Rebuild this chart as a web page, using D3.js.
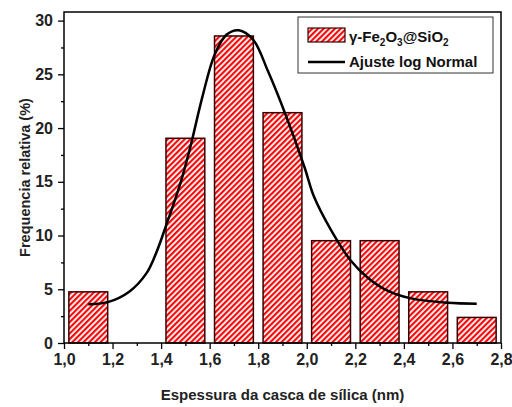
<!DOCTYPE html>
<html>
<head>
<meta charset="utf-8">
<script src="https://cdn.jsdelivr.net/npm/d3@7"></script>
<style>
  body { margin: 0; background: #fff; }
  svg { font-family: "Liberation Sans", Arial, sans-serif; font-weight: bold; }
</style>
</head>
<body>
<svg id="chart" width="512" height="407"></svg>
<script>
// histogram bins (nm) and relative frequency (%)
var binCenters = [1.1, 1.5, 1.7, 1.9, 2.1, 2.3, 2.5, 2.7];
var freqValues = [4.76, 19.05, 28.57, 21.43, 9.52, 9.52, 4.76, 2.38];
var binWidth = 0.16;

// log-normal fit curve
var fitX = [1.10, 1.18, 1.27, 1.34, 1.38, 1.42, 1.48, 1.52, 1.57, 1.62, 1.67, 1.72, 1.78, 1.84, 1.91, 1.99, 2.03, 2.10, 2.18, 2.25, 2.33, 2.43, 2.58, 2.70];
var fitY = [3.6, 3.8, 4.8, 6.5, 8.4, 10.9, 14.9, 18.2, 22.9, 26.8, 28.7, 29.1, 28.2, 25.3, 21.4, 16.4, 13.6, 10.5, 7.7, 6.1, 4.9, 4.15, 3.75, 3.66];

var xTicks = [1.0, 1.2, 1.4, 1.6, 1.8, 2.0, 2.2, 2.4, 2.6, 2.8];
var yTicks = [0, 5, 10, 15, 20, 25, 30];

var svg = d3.select("#chart");
var pLeft = 64, pRight = 501, pTop = 12, pBottom = 343;

var x = d3.scaleLinear().domain([1.0, 2.8]).range([pLeft, pRight]);
var y = d3.scaleLinear().domain([0, 30.8]).range([pBottom, pTop]);

// stripe pattern
var defs = svg.append("defs");
var pat = defs.append("pattern")
    .attr("id", "hatch")
    .attr("patternUnits", "userSpaceOnUse")
    .attr("width", 4).attr("height", 4)
    .attr("patternTransform", "rotate(45)");
pat.append("rect").attr("width", 4).attr("height", 4).attr("fill", "#fff");
pat.append("rect").attr("width", 2.2).attr("height", 4).attr("fill", "#f50a0a");

// bars
svg.selectAll("rect.bar")
    .data(binCenters)
    .enter()
    .append("rect")
    .attr("class", "bar")
    .attr("x", function(d) { return x(d - binWidth / 2); })
    .attr("width", function(d) { return x(d + binWidth / 2) - x(d - binWidth / 2); })
    .attr("y", function(d, i) { return y(freqValues[i]); })
    .attr("height", function(d, i) { return y(0) - y(freqValues[i]); })
    .attr("fill", "url(#hatch)")
    .attr("stroke", "#3a0000")
    .attr("stroke-width", 1.5);

// fit curve
var line = d3.line()
    .x(function(d, i) { return x(fitX[i]); })
    .y(function(d, i) { return y(d); })
    .curve(d3.curveCatmullRom.alpha(0.5));

svg.append("path")
    .attr("d", line(fitY))
    .attr("fill", "none")
    .attr("stroke", "#000")
    .attr("stroke-width", 2.5);

// frame
svg.append("rect")
    .attr("x", pLeft).attr("y", pTop)
    .attr("width", pRight - pLeft).attr("height", pBottom - pTop)
    .attr("fill", "none")
    .attr("stroke", "#000")
    .attr("stroke-width", 1.5);

// x axis
var fmt = function(d) { return d3.format(".1f")(d).replace(".", ","); };
var xAxis = svg.append("g").attr("transform", "translate(0," + pBottom + ")");
xAxis.append("g").call(d3.axisBottom(x).tickValues(d3.range(1.1, 2.8, 0.2)).tickSize(3).tickFormat(""));
xAxis.append("g").call(d3.axisBottom(x).tickValues(xTicks).tickSize(6).tickPadding(5).tickFormat(fmt));
xAxis.selectAll(".domain").remove();
xAxis.selectAll("line").attr("stroke", "#000").attr("stroke-width", 1.3);
xAxis.selectAll("text").attr("font-size", 16).attr("font-weight", "bold")
    .attr("font-family", "'Liberation Sans', Arial, sans-serif").attr("fill", "#222");

// y axis
var yAxis = svg.append("g").attr("transform", "translate(" + pLeft + ",0)");
yAxis.append("g").call(d3.axisLeft(y).tickValues(d3.range(2.5, 30, 5)).tickSize(3).tickFormat(""));
yAxis.append("g").call(d3.axisLeft(y).tickValues(yTicks).tickSize(6).tickPadding(5));
yAxis.selectAll(".domain").remove();
yAxis.selectAll("line").attr("stroke", "#000").attr("stroke-width", 1.3);
yAxis.selectAll("text").attr("font-size", 16).attr("font-weight", "bold")
    .attr("font-family", "'Liberation Sans', Arial, sans-serif").attr("fill", "#222");

// axis titles
svg.append("text")
    .attr("x", (pLeft + pRight) / 2).attr("y", 400)
    .attr("text-anchor", "middle")
    .attr("font-size", 15).attr("fill", "#222")
    .text("Espessura da casca de sílica (nm)");

svg.append("text")
    .attr("transform", "translate(30," + ((pTop + pBottom) / 2) + ") rotate(-90)")
    .attr("text-anchor", "middle")
    .attr("font-size", 14.5).attr("fill", "#222")
    .text("Frequencia relativa (%)");

// legend
var lg = svg.append("g");
lg.append("rect")
    .attr("x", 298).attr("y", 17).attr("width", 195).attr("height", 56)
    .attr("fill", "#fff").attr("stroke", "#333").attr("stroke-width", 1);
lg.append("rect")
    .attr("x", 308).attr("y", 28).attr("width", 37).attr("height", 14)
    .attr("fill", "url(#hatch)").attr("stroke", "#3a0000").attr("stroke-width", 1.2);
lg.append("line")
    .attr("x1", 308).attr("x2", 345).attr("y1", 62).attr("y2", 62)
    .attr("stroke", "#000").attr("stroke-width", 2.5);
var t1 = lg.append("text").attr("x", 349).attr("y", 42).attr("font-size", 15).attr("fill", "#111");
t1.append("tspan").text("γ-Fe");
t1.append("tspan").attr("font-size", 10).attr("dy", 4).text("2");
t1.append("tspan").attr("dy", -4).text("O");
t1.append("tspan").attr("font-size", 10).attr("dy", 4).text("3");
t1.append("tspan").attr("dy", -4).text("@SiO");
t1.append("tspan").attr("font-size", 10).attr("dy", 4).text("2");
lg.append("text").attr("x", 349).attr("y", 67).attr("font-size", 15).attr("fill", "#111")
    .text("Ajuste log Normal");
</script>
</body>
</html>
